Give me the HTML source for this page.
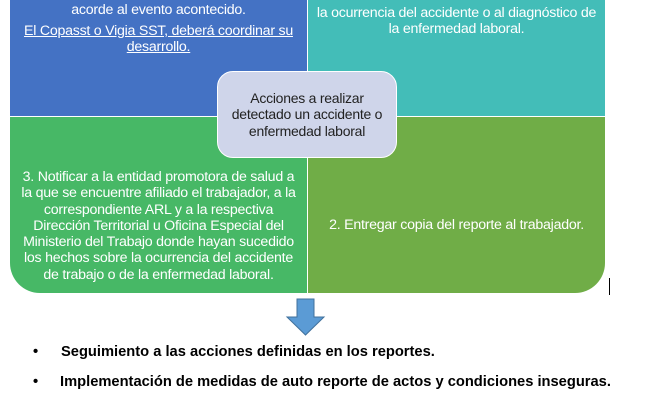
<!DOCTYPE html>
<html><head><meta charset="utf-8"><style>
body{margin:0;width:651px;height:400px;background:#fff;position:relative;overflow:hidden;font-family:"Liberation Sans",sans-serif}
.q{position:absolute;color:#fff;font-size:14.2px;line-height:16.3px;text-align:center;letter-spacing:-0.25px;white-space:nowrap}
.t{position:absolute;left:0;right:0}
</style></head><body>
<div class="q" style="left:10px;top:0;width:297px;height:116px;background:#4472c4">
 <div class="t" style="top:2px">acorde al evento acontecido.</div>
 <div class="t" style="top:23px;text-decoration:underline">El Copasst o Vigia SST, deberá coordinar su<br>desarrollo.</div>
</div>
<div class="q" style="left:308px;top:0;width:297px;height:116px;background:#43bdb8">
 <div class="t" style="top:5px">la ocurrencia del accidente o al diagnóstico de<br>la enfermedad laboral.</div>
</div>
<div class="q" style="left:10px;top:117px;width:297px;height:176px;background:#47b866;border-bottom-left-radius:30px">
 <div class="t" style="top:52px">3. Notificar a la entidad promotora de salud a<br>la que se encuentre afiliado el trabajador, a la<br>correspondiente ARL y a la respectiva<br>Dirección Territorial u Oficina Especial del<br>Ministerio del Trabajo donde hayan sucedido<br>los hechos sobre la ocurrencia del accidente<br>de trabajo o de la enfermedad laboral.</div>
</div>
<div class="q" style="left:308px;top:117px;width:297px;height:176px;background:#70ad47;border-bottom-right-radius:30px">
 <div class="t" style="top:100px">2. Entregar copia del reporte al trabajador.</div>
</div>
<div style="position:absolute;left:217px;top:71px;width:178px;height:85px;background:#cfd5ea;border:1.5px solid #fff;border-radius:16px;color:#222;font-size:14px;line-height:16.3px;text-align:center;letter-spacing:-0.25px;display:flex;align-items:center;justify-content:center">Acciones a realizar<br>detectado un accidente o<br>enfermedad laboral</div>
<div style="position:absolute;left:609px;top:278px;width:1px;height:17px;background:#000"></div>
<svg style="position:absolute;left:0;top:0" width="651" height="400"><polygon points="297,299 314,299 314,317 324,317 305.5,335 287,317 297,317" fill="#5b9bd5" stroke="#41719c" stroke-width="1"/></svg>
<div style="position:absolute;left:33px;top:344px;font-size:14.7px;font-weight:bold;color:#000">•</div>
<div style="position:absolute;left:61px;top:344px;font-size:14.7px;font-weight:bold;color:#000;white-space:nowrap">Seguimiento a las acciones definidas en los reportes.</div>
<div style="position:absolute;left:33px;top:374px;font-size:14.7px;font-weight:bold;color:#000">•</div>
<div style="position:absolute;left:60px;top:374px;font-size:14.7px;font-weight:bold;color:#000;white-space:nowrap">Implementación de medidas de auto reporte de actos y condiciones inseguras.</div>
</body></html>
